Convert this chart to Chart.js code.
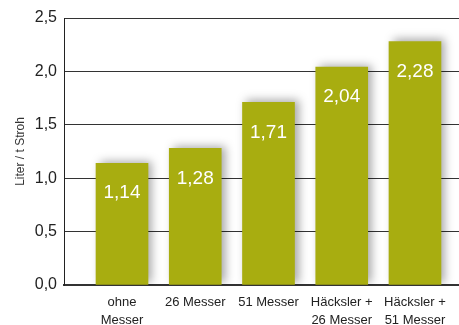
<!DOCTYPE html>
<html>
<head>
<meta charset="utf-8">
<script src="https://cdn.jsdelivr.net/npm/chart.js@4/dist/chart.umd.min.js"></script>
<style>
  html, body { margin: 0; padding: 0; background: #fff; }
  #wrap { width: 459px; height: 325px; }
</style>
</head>
<body>
<div id="wrap"><canvas id="c" width="459" height="325"></canvas></div>
<script>
// Strohbehandlung: Categories, values and tick labels
const categories = [
  ['ohne', 'Messer'],
  ['26 Messer'],
  ['51 Messer'],
  ['Häcksler +', '26 Messer'],
  ['Häcksler +', '51 Messer']
];
const values = [1.14, 1.28, 1.71, 2.04, 2.28];
const yTicks = [0, 0.5, 1.0, 1.5, 2.0, 2.5];
const yTitle = 'Liter / t Stroh';

const fmt = v => v.toFixed(2).replace('.', ',');
const fmtTick = v => v.toFixed(1).replace('.', ',');

// Soft shadow behind the bars
const barShadow = {
  id: 'barShadow',
  beforeDatasetsDraw(chart) {
    const ctx = chart.ctx;
    ctx.save();
    ctx.shadowColor = 'rgba(0,0,0,0.35)';
    ctx.shadowBlur = 9;
    ctx.shadowOffsetX = 4;
    ctx.shadowOffsetY = -2;
  },
  afterDatasetsDraw(chart) {
    chart.ctx.restore();
  }
};

// Value labels inside the bars
const valueLabels = {
  id: 'valueLabels',
  afterDatasetsDraw(chart) {
    const ctx = chart.ctx;
    const meta = chart.getDatasetMeta(0);
    ctx.save();
    ctx.fillStyle = '#ffffff';
    ctx.font = '19px "Liberation Sans", Arial, sans-serif';
    ctx.textAlign = 'center';
    ctx.textBaseline = 'middle';
    meta.data.forEach((bar, i) => {
      ctx.fillText(fmt(values[i]), bar.x, bar.y + 30);
    });
    ctx.restore();
  }
};

new Chart(document.getElementById('c'), {
  type: 'bar',
  data: {
    datasets: [{
      data: values.map((v, i) => ({ x: i, y: v })),
      backgroundColor: '#a8ad10',
      borderWidth: 0,
      barThickness: 52
    }]
  },
  options: {
    responsive: false,
    animation: false,
    layout: { padding: { top: 18, right: 0, left: 0, bottom: 0 } },
    plugins: { legend: { display: false }, tooltip: { enabled: false } },
    scales: {
      x: {
        type: 'linear',
        offset: false,
        min: -0.792,
        max: 4.601,
        afterFit(scale) { scale.height = 40; },
        grid: { display: false, drawTicks: false },
        border: { display: true, color: '#333333', width: 2 },
        ticks: {
          stepSize: 1,
          includeBounds: false,
          autoSkip: false,
          maxRotation: 0,
          padding: 8,
          color: '#222222',
          font: { family: '"Liberation Sans", Arial, sans-serif', size: 13, lineHeight: 1.4 },
          callback: v => (Number.isInteger(v) && categories[v]) ? categories[v] : ''
        }
      },
      y: {
        min: 0,
        max: 2.5,
        afterFit(scale) { scale.width = 64; },
        afterBuildTicks(scale) { scale.ticks = yTicks.map(v => ({ value: v })); },
        grid: { color: '#333333', lineWidth: 1, drawTicks: false },
        border: { display: true, color: '#222222', width: 1 },
        title: {
          display: true,
          text: yTitle,
          color: '#333333',
          padding: { top: 13, bottom: 0 },
          font: { family: '"Liberation Sans", Arial, sans-serif', size: 12 }
        },
        ticks: {
          padding: 7,
          color: '#222222',
          font: { family: '"Liberation Sans", Arial, sans-serif', size: 16 },
          callback: v => fmtTick(v)
        }
      }
    }
  },
  plugins: [barShadow, valueLabels]
});
</script>
</body>
</html>
